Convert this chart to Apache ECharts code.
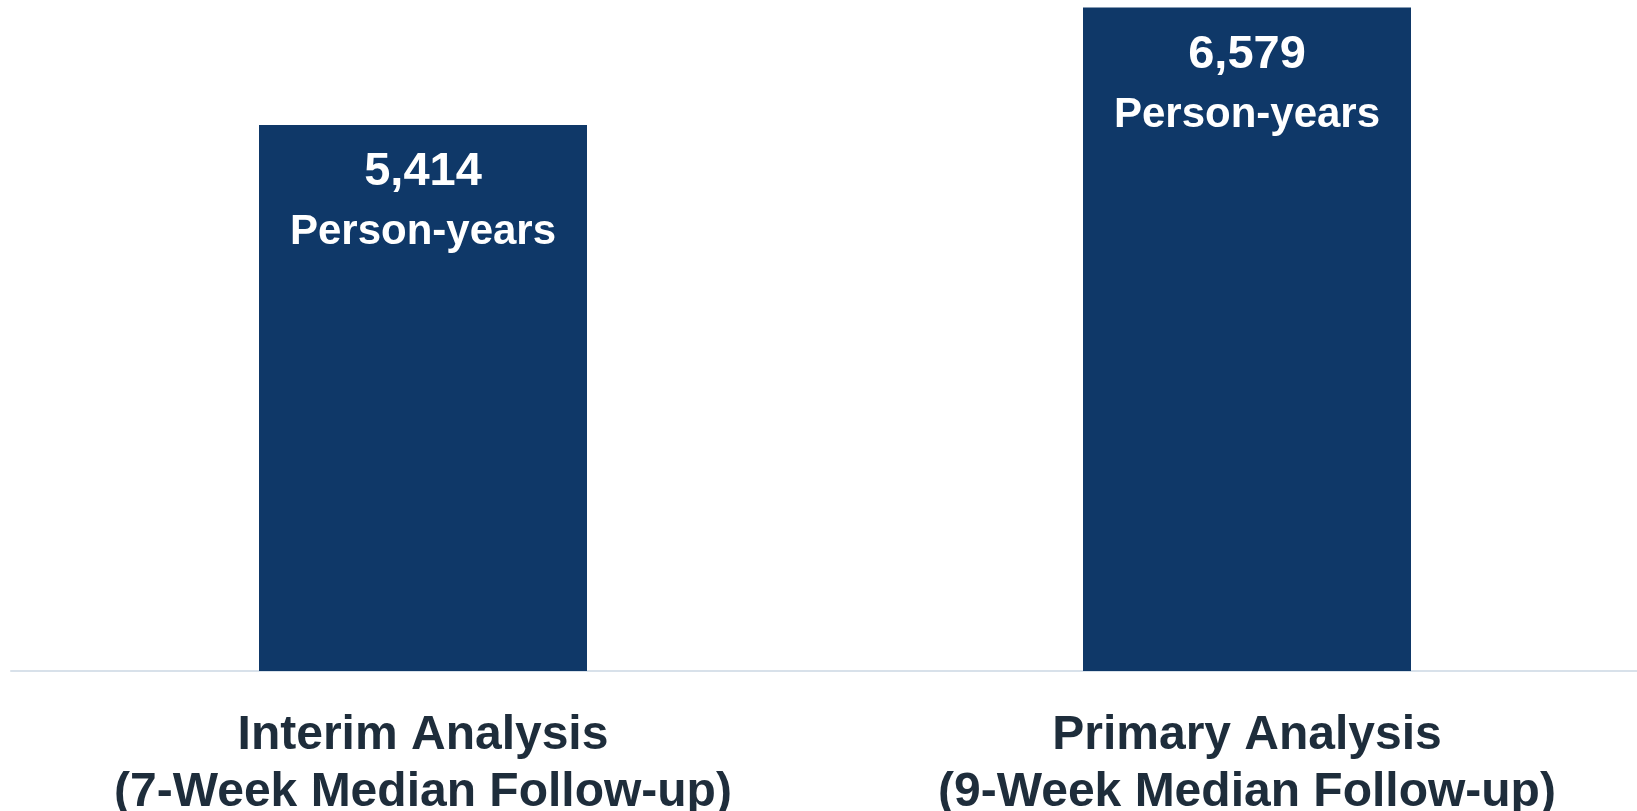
<!DOCTYPE html>
<html>
<head>
<meta charset="utf-8">
<script src="https://cdn.jsdelivr.net/npm/echarts@6/dist/echarts.min.js"></script>
<style>
html,body{margin:0;padding:0;background:#fff;}
#chart{width:1637px;height:811px;}
</style>
</head>
<body>
<div id="chart"></div>
<script>
const categories = ['Interim Analysis\n(7-Week Median Follow-up)', 'Primary Analysis\n(9-Week Median Follow-up)'];
const personYears = [5414, 6579];
const unitLabel = 'Person-years';

const chart = echarts.init(document.getElementById('chart'), null, {renderer: 'canvas'});
const fmt = v => v.toLocaleString('en-US');

chart.setOption({
  animation: false,
  backgroundColor: '#ffffff',
  grid: {left: 11, right: -22, top: 0, bottom: 140, containLabel: false, outerBoundsMode: 'none'},
  xAxis: {
    type: 'category',
    data: categories,
    axisLine: {show: true, lineStyle: {color: '#d8e1ea', width: 2}},
    axisTick: {show: false},
    axisLabel: {
      interval: 0,
      margin: 36,
      color: '#1e2d3b',
      fontFamily: 'Liberation Sans, Arial, sans-serif',
      fontWeight: 'bold',
      fontSize: 48,
      lineHeight: 57
    }
  },
  yAxis: {
    type: 'value',
    min: 0,
    max: 6654,
    show: false,
    splitLine: {show: false}
  },
  series: [{
    type: 'bar',
    data: personYears,
    barWidth: 328,
    itemStyle: {color: '#0f3868'},
    label: {
      show: true,
      position: 'insideTop',
      distance: 19,
      formatter: p => '{a|' + fmt(p.value) + '}\n{b|' + unitLabel + '}',
      rich: {
        a: {color: '#ffffff', fontFamily: 'Liberation Sans, Arial, sans-serif', fontWeight: 'bold', fontSize: 47, lineHeight: 57},
        b: {color: '#ffffff', fontFamily: 'Liberation Sans, Arial, sans-serif', fontWeight: 'bold', fontSize: 42, lineHeight: 63}
      }
    }
  }]
});
</script>
</body>
</html>
